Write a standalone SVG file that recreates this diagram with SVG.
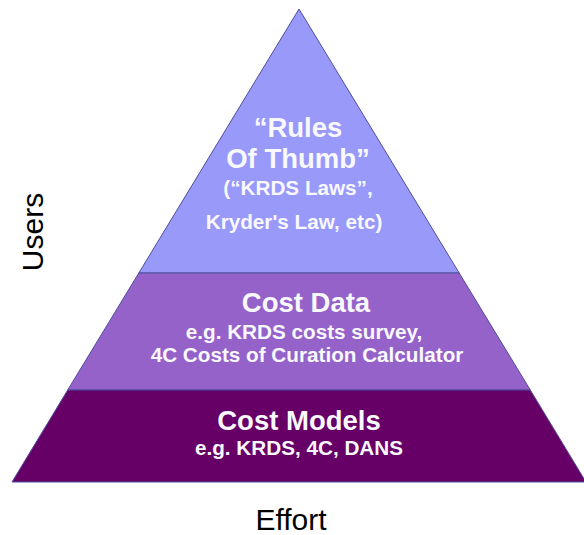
<svg xmlns="http://www.w3.org/2000/svg" width="584" height="535" viewBox="0 0 584 535">
  <style>
    .band { stroke: #4e4e9e; stroke-width: 1; stroke-linejoin: miter; }
    .head { font-family: "Liberation Sans", Arial, sans-serif; font-weight: bold; font-size: 27.5px; fill: #f8f8ff; text-anchor: middle; }
    .sub { font-family: "Liberation Sans", Arial, sans-serif; font-weight: bold; font-size: 20.7px; fill: #f8f8ff; text-anchor: middle; }
    .axis { font-family: "Liberation Sans", Arial, sans-serif; font-size: 30px; fill: #000000; text-anchor: middle; }
  </style>
  <rect width="584" height="535" fill="#ffffff"/>

  <!-- top tier -->
  <g id="rules-of-thumb">
    <polygon class="band" points="299,9 459.2,273 138.8,273" fill="#9999fa"/>
    <text class="head" x="298" y="137">“Rules</text>
    <text class="head" x="298" y="168">Of Thumb”</text>
    <text class="sub" x="298" y="195">(“KRDS Laws”,</text>
    <text class="sub" x="294" y="228.5">Kryder's Law, etc)</text>
  </g>

  <!-- middle tier -->
  <g id="cost-data">
    <polygon class="band" points="138.8,273 459.2,273 530.3,390 67.7,390" fill="#9562c9"/>
    <text class="head" x="306" y="312">Cost Data</text>
    <text class="sub" x="304" y="339">e.g. KRDS costs survey,</text>
    <text class="sub" x="307" y="362">4C Costs of Curation Calculator</text>
  </g>

  <!-- bottom tier -->
  <g id="cost-models">
    <polygon class="band" points="67.7,390 530.3,390 586,482 12,482" fill="#660066" stroke="#9a6ac6"/>
    <text class="head" x="299" y="430">Cost Models</text>
    <text class="sub" x="299" y="455">e.g. KRDS, 4C, DANS</text>
  </g>

  <!-- axis labels -->
  <g id="axis-users">
    <text class="axis" transform="translate(43,232) rotate(-90)">Users</text>
  </g>
  <g id="axis-effort">
    <text class="axis" x="291" y="530">Effort</text>
  </g>

  <g id="connectors"/>
</svg>
